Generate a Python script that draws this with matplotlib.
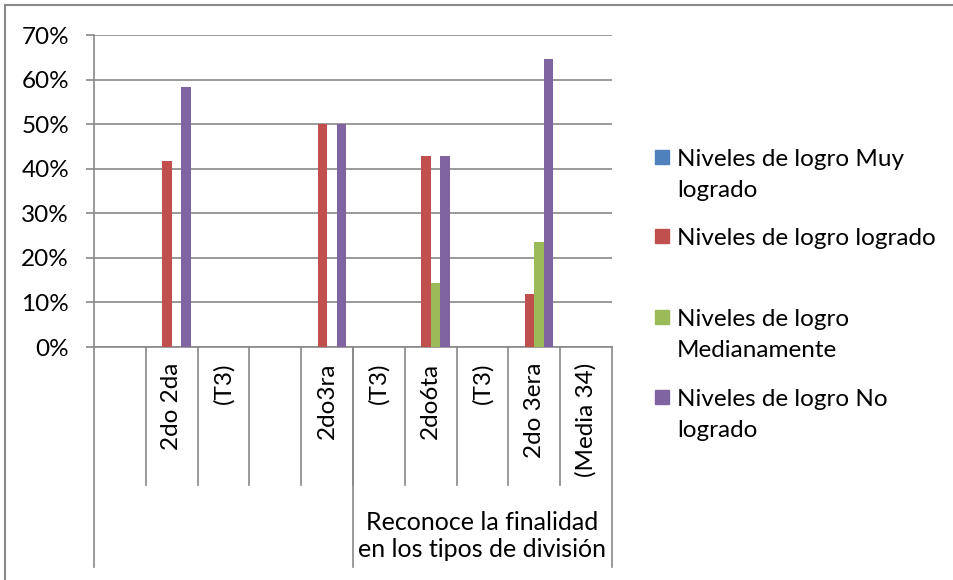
import numpy as np
import matplotlib
matplotlib.use("Agg")
import matplotlib.pyplot as plt
from matplotlib.lines import Line2D
from matplotlib.patches import Rectangle

plt.rcParams['font.family'] = ['Lato', 'DejaVu Sans']

# === datos ===
cat_nivel1 = ['', '2do 2da', '(T3)', '', '2do3ra', '(T3)', '2do6ta', '(T3)', '2do 3era', '(Media 34)']
cat_nivel2 = ['', 'Reconoce la finalidad\nen los tipos de división']
tam_grupo = [5, 5]

series = ['Niveles de logro Muy\nlogrado', 'Niveles de logro logrado',
          'Niveles de logro\nMedianamente', 'Niveles de logro No\nlogrado']
colores = ['#4F81BD', '#C0504D', '#9BBB59', '#8064A2']

nan = np.nan
muy_logrado = [nan, 0.0, nan, nan, 0.0, nan, 0.0, nan, 0.0, nan]
logrado = [nan, 41.7, nan, nan, 50.0, nan, 42.9, nan, 11.8, nan]
medianamente = [nan, 0.0, nan, nan, 0.0, nan, 14.3, nan, 23.5, nan]
no_logrado = [nan, 58.3, nan, nan, 50.0, nan, 42.9, nan, 64.7, nan]
valores = [muy_logrado, logrado, medianamente, no_logrado]

yticks = [0, 10, 20, 30, 40, 50, 60, 70]

GRIS = '#898989'
W, H = 954, 580
FS = 17.5

fig = plt.figure(figsize=(W / 100, H / 100), dpi=100)
ax = fig.add_axes([94 / W, 1 - 347 / H, 518 / W, 312 / H])

# barras agrupadas (ancho de separación ~150%)
x = np.arange(len(cat_nivel1))
w = 1 / 5.5
for i, (vals, col) in enumerate(zip(valores, colores)):
    ax.bar(x + (i - 1.5) * w, vals, w, color=col, linewidth=0, zorder=3)

ax.set_xlim(-0.5, len(cat_nivel1) - 0.5)
ax.set_ylim(0, 70)
ax.set_yticks(yticks)
ax.set_yticklabels([f'{v}%' for v in yticks], fontsize=FS)
ax.yaxis.grid(True, color=GRIS, linewidth=1.2, zorder=0)
ax.set_axisbelow(True)
ax.set_xticks([])
ax.tick_params(axis='y', direction='out', length=6, width=1.2, color=GRIS, pad=12)
for s in ['top', 'right']:
    ax.spines[s].set_visible(False)
for s in ['left', 'bottom']:
    ax.spines[s].set_color(GRIS)
    ax.spines[s].set_linewidth(1.2)

# eje de categorías de dos niveles
tr = ax.get_xaxis_transform()
for k in range(1, len(cat_nivel1)):
    ax.plot([k - 0.5, k - 0.5], [0, -0.442], transform=tr, color=GRIS, lw=1.2, clip_on=False)
for i, lab in enumerate(cat_nivel1):
    ax.text(i, -0.05, lab, rotation=90, ha='center', va='top', fontsize=FS,
            transform=tr)

inicio = -0.5
ax.plot([inicio, inicio], [0, -0.705], transform=tr, color=GRIS, lw=1.2, clip_on=False)
for lab, n in zip(cat_nivel2, tam_grupo):
    fin = inicio + n
    ax.plot([fin, fin], [0, -0.705], transform=tr, color=GRIS, lw=1.2, clip_on=False)
    ax.text((inicio + fin) / 2, -0.606, lab, ha='center', va='center', fontsize=18,
            linespacing=1.25, transform=tr)
    inicio = fin

# leyenda manual (estilo Excel)
bases = [[166, 197], [245], [326, 357], [406, 437]]
for lab, col, bl in zip(series, colores, bases):
    fig.add_artist(Rectangle((655 / W, 1 - (bl[0] - 2) / H), 14 / W, 14 / H,
                             transform=fig.transFigure, color=col))
    for linea, y in zip(lab.split('\n'), bl):
        fig.text(677 / W, 1 - y / H, linea, ha='left', va='baseline', fontsize=FS)

# borde del gráfico
fig.add_artist(Line2D([5 / W, 1], [1 - 5 / H, 1 - 5 / H], transform=fig.transFigure,
                      color=GRIS, lw=1.5))
fig.add_artist(Line2D([5 / W, 5 / W], [0, 1 - 5 / H], transform=fig.transFigure,
                      color=GRIS, lw=1.5))

fig.savefig('out.png', dpi=100)
